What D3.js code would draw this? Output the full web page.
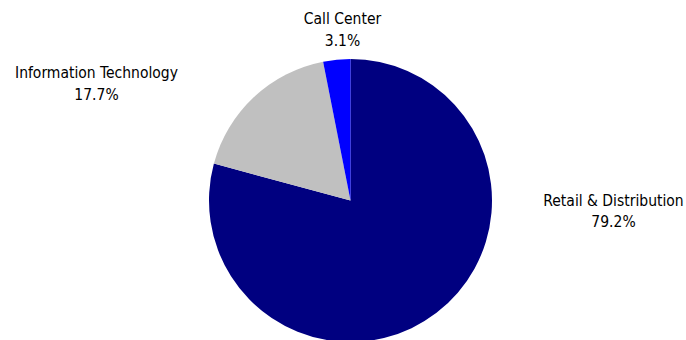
<!DOCTYPE html>
<html>
<head>
<meta charset="utf-8">
<script src="https://cdn.jsdelivr.net/npm/d3@7"></script>
<style>
  html, body { margin: 0; padding: 0; background: #fff; }
  svg { display: block; }
  text { font-family: Tahoma, "DejaVu Sans Condensed", "DejaVu Sans", sans-serif; font-size: 15.5px; fill: #000; }
</style>
</head>
<body>
<svg id="chart" width="686" height="340"></svg>
<script>
// Share of headcount by business area (percent), drawn clockwise from 12 o'clock
const categories = ["Retail & Distribution", "Information Technology", "Call Center"];
const shares = [79.2, 17.7, 3.1];
const colors = ["#000080", "#C0C0C0", "#0000FF"];

const width = 686, height = 340;
const cx = 350.5, cy = 200.5, radius = 141.5;

const svg = d3.select("#chart");
const g = svg.append("g").attr("transform", `translate(${cx},${cy})`);

const pie = d3.pie().sort(null).value(d => d.value);
const arc = d3.arc().innerRadius(0).outerRadius(radius);

const data = categories.map((c, i) => ({ name: c, value: shares[i], color: colors[i] }));
const arcs = pie(data);

g.selectAll("path.slice")
  .data(arcs)
  .join("path")
  .attr("class", "slice")
  .attr("d", arc)
  .attr("fill", d => d.data.color);

// Label anchor offsets (relative to pie centre) for the two-line data labels
const labelOffsets = [
  { dx: 263, dy: 5 },        // Retail & Distribution
  { dx: -254, dy: -122.5 },  // Information Technology
  { dx: -8, dy: -176.5 }     // Call Center
];
const lineGap = 21.5;

const labels = g.selectAll("text.label")
  .data(arcs)
  .join("text")
  .attr("class", "label")
  .attr("text-anchor", "middle")
  .attr("transform", (d, i) => `translate(${labelOffsets[i].dx},${labelOffsets[i].dy})`);

labels.append("tspan")
  .attr("x", 0)
  .attr("dy", 0)
  .text(d => d.data.name);

labels.append("tspan")
  .attr("x", 0)
  .attr("dy", lineGap)
  .text(d => d3.format(".1f")(d.data.value) + "%");
</script>
</body>
</html>
